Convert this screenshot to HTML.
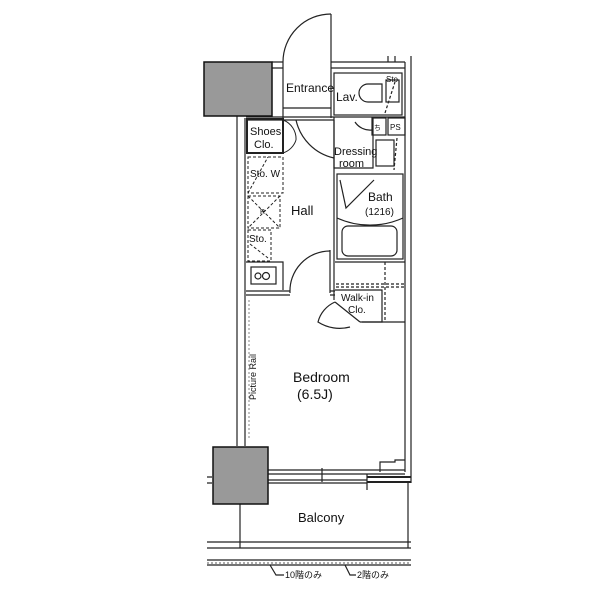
<!DOCTYPE html>
<html><head><meta charset="utf-8"><style>
body{margin:0;background:#fff;}
svg{display:block;font-family:"Liberation Sans","Noto Sans CJK JP",sans-serif;}
</style></head><body>
<svg width="600" height="599" viewBox="0 0 600 599" xmlns="http://www.w3.org/2000/svg">
<g fill="none" stroke="#222" stroke-width="1.2">
<path d="M237 116 V446 M245 118 V446"/>
<path d="M405 62 V472 M411 56 V483"/>
<path d="M272 62 H283 M331 62 H405 M272 68 H283 M331 68 H405"/>
<path d="M388 56 V62 M395 56 V62"/>
<path d="M331 62 V14"/><path d="M283 62 A48 48 0 0 1 331 14"/>
<path d="M283 62 V118 M331 62 V118 M283 108 H331"/>
<path d="M246 117 H405 M246 120 H334"/>
<rect x="334" y="73" width="68" height="42"/>
<path d="M382 84 h-14 a9 9 0 0 0 0 18 h14z"/>
<rect x="386" y="80" width="13" height="22"/>
<path d="M385 113 L395 82" stroke-dasharray="3 2"/>
<rect x="247" y="119" width="36" height="34" stroke-width="2"/>
<path d="M283 120 A20 20 0 0 1 296 140 M283 153 A20 20 0 0 0 296 140" stroke-width="1"/>
<path d="M296 120 A50 50 0 0 0 334 158"/>
<path d="M334 117 V168 H373 V118"/>
<rect x="372" y="118" width="14" height="17"/>
<rect x="388" y="118" width="17" height="17"/>
<rect x="376" y="140" width="18" height="26"/>
<path d="M397 138 L394 170" stroke-dasharray="3 2"/>
<path d="M355 122 A18 18 0 0 0 372 130"/>
<rect x="337" y="174" width="66" height="85"/>
<path d="M337 218 A80 80 0 0 0 403 218"/>
<rect x="342" y="226" width="55" height="30" rx="6"/>
<path d="M340 180 L346 208 L374 180"/>
<g stroke-dasharray="3 2" stroke-width="1">
<rect x="248" y="157" width="35" height="36"/>
<rect x="248" y="196" width="32" height="32"/>
<path d="M248 196 L280 228 M280 196 L248 228 M248 193 L268 157"/>
<rect x="248" y="230" width="23" height="31"/>
<path d="M250 244 L268 258"/>
</g>
<rect x="251" y="267" width="25" height="17"/>
<circle cx="258" cy="276" r="3"/><circle cx="266" cy="276" r="3.5"/>
<path d="M246 262 H283 V290"/>
<path d="M246 291 H290 M246 295 H290 M330 291 H335 M330 295 H335"/>
<path d="M330 250 V293"/><path d="M290 293 A40 40 0 0 1 330 251"/>
<path d="M334 120 V300"/>
<path d="M335 262 H405"/>
<path d="M336 284 H405 M336 287 H405" stroke-dasharray="3 2"/>
<path d="M385 262 V322" stroke-dasharray="3 2"/>
<path d="M335 290 H382 V322 H360"/>
<path d="M335 302 L360 322"/>
<path d="M335 302 A30 30 0 0 0 318 322 A40 40 0 0 0 350 327"/>
<path d="M362 322 H405"/>
<path d="M249 300 V440" stroke-dasharray="2 2" stroke="#999"/>
<path d="M268 470 H405 M268 474 H405 M268 480 H367 M268 483 H367 M367 474 V490 M322 468 V482"/>
<path d="M380 472 V462 H395 V460 H405"/>
<path d="M367 477 H411 M367 482 H411" stroke-width="2"/>
<path d="M207 477 H212 M207 483 H212"/>
<path d="M240 503 V548 M408 483 V548"/>
<path d="M207 542 H411 M207 548 H411 M207 560 H411 M207 565 H411"/>
<path d="M207 563 H411" stroke-dasharray="2 2" stroke-width="0.8"/>
<path d="M270 565 L276 575 H284 M345 565 L350 575 H356"/>
</g>
<rect x="204" y="62" width="68" height="54" fill="#999" stroke="#111" stroke-width="1.5"/>
<rect x="213" y="447" width="55" height="57" fill="#999" stroke="#111" stroke-width="1.5"/>
<g font-size="12" fill="#111">
<text x="286" y="92">Entrance</text>
<text x="336" y="101">Lav.</text>
<text x="386" y="82" font-size="8">Sto.</text>
<text x="250" y="135" font-size="11">Shoes</text>
<text x="254" y="148" font-size="11">Clo.</text>
<text x="334" y="155" font-size="11">Dressing</text>
<text x="339" y="167" font-size="11">room</text>
<text x="374" y="130" font-size="7">ち</text>
<text x="390" y="130" font-size="8">PS</text>
<text x="368" y="201">Bath</text>
<text x="365" y="215" font-size="10">(1216)</text>
<text x="291" y="215" font-size="13">Hall</text>
<text x="250" y="177" font-size="10">Sto. W</text>
<text x="260" y="214" font-size="7">R</text>
<text x="249" y="242" font-size="10">Sto.</text>
<text x="341" y="301" font-size="10">Walk-in</text>
<text x="348" y="313" font-size="10">Clo.</text>
<text x="293" y="382" font-size="14">Bedroom</text>
<text x="297" y="399" font-size="14">(6.5J)</text>
<text x="0" y="0" font-size="9" transform="translate(256,400) rotate(-90)">Picture Rail</text>
<text x="298" y="522" font-size="13">Balcony</text>
<text x="285" y="578" font-size="9">10階のみ</text>
<text x="357" y="578" font-size="9">2階のみ</text>
</g>
</svg>
</body></html>
